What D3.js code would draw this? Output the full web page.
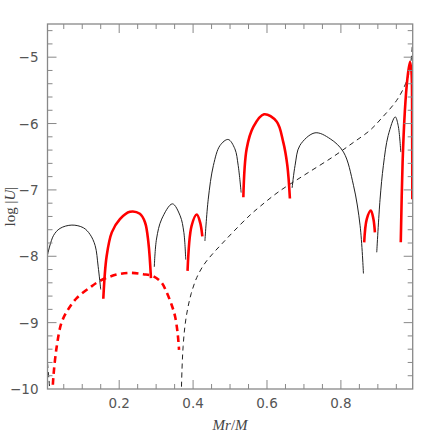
<!DOCTYPE html>
<html>
<head>
<meta charset="utf-8">
<script src="https://cdn.jsdelivr.net/npm/d3@7"></script>
<style>
  html, body { margin: 0; padding: 0; background: #fff; }
  svg { display: block; }
</style>
</head>
<body>
<div id="chart"></div>
<script>
// log |U| against Mr/M, lobes alternate sign (black = one sign, red = other)

const xTicks = [0.2, 0.4, 0.6, 0.8];
const yTicks = [-10, -9, -8, -7, -6, -5];

// solid curve, split into lobes: [Mr/M, log|U|]
const lobeBlack1 = [[0.006, -7.98], [0.022, -7.69], [0.040, -7.58], [0.072, -7.53], [0.103, -7.57], [0.121, -7.67], [0.135, -7.84], [0.143, -8.15], [0.150, -8.50]];
const lobeRed2 = [[0.157, -8.64], [0.166, -8.00], [0.180, -7.64], [0.202, -7.44], [0.229, -7.33], [0.256, -7.36], [0.270, -7.49], [0.279, -7.79], [0.286, -8.33]];
const lobeBlack3 = [[0.295, -8.16], [0.301, -7.74], [0.315, -7.44], [0.344, -7.21], [0.365, -7.39], [0.375, -7.64], [0.380, -8.05]];
const lobeRed4 = [[0.385, -8.22], [0.396, -7.54], [0.410, -7.37], [0.419, -7.49], [0.425, -7.70]];
const lobeBlack5 = [[0.432, -7.77], [0.441, -7.14], [0.455, -6.63], [0.473, -6.33], [0.495, -6.24], [0.513, -6.38], [0.522, -6.63], [0.530, -7.04]];
const lobeRed6 = [[0.536, -7.11], [0.545, -6.38], [0.563, -6.05], [0.592, -5.86], [0.626, -5.97], [0.644, -6.28], [0.655, -6.63], [0.662, -7.13]];
const lobeBlack7 = [[0.668, -6.97], [0.676, -6.63], [0.689, -6.33], [0.730, -6.14], [0.771, -6.23], [0.807, -6.43], [0.834, -6.93], [0.852, -7.54], [0.861, -8.26]];
const lobeRed8 = [[0.863, -7.79], [0.870, -7.44], [0.881, -7.31], [0.888, -7.44], [0.892, -7.64]];
const lobeBlack9 = [[0.897, -7.94], [0.906, -7.14], [0.915, -6.63], [0.928, -6.18], [0.947, -5.90], [0.955, -6.03], [0.962, -6.43]];
const lobeRed10 = [[0.962, -7.79], [0.967, -6.58], [0.973, -5.82], [0.980, -5.32], [0.987, -5.07], [0.991, -5.22], [0.9928, -6.08], [0.9932, -7.14]];

// dashed curves
const dashRed = [[0.019, -10.1], [0.022, -9.81], [0.031, -9.36], [0.044, -9.00], [0.062, -8.80], [0.085, -8.63], [0.121, -8.47], [0.148, -8.37], [0.190, -8.28], [0.229, -8.25], [0.265, -8.27], [0.292, -8.30], [0.315, -8.40], [0.329, -8.55], [0.343, -8.75], [0.351, -8.90], [0.358, -9.15], [0.362, -9.41]];
const dashBlackLeft = [[0.006, -9.61], [0.010, -9.86], [0.013, -10.1]];
const dashBlack = [[0.368, -10.1], [0.370, -9.70], [0.373, -9.36], [0.378, -9.05], [0.385, -8.80], [0.395, -8.56], [0.410, -8.32], [0.430, -8.12], [0.455, -7.95], [0.480, -7.80], [0.509, -7.63], [0.554, -7.38], [0.581, -7.25], [0.631, -7.03], [0.700, -6.78], [0.779, -6.50], [0.830, -6.30], [0.879, -6.10], [0.910, -5.92], [0.951, -5.65], [0.975, -5.40], [0.987, -5.17], [0.994, -4.76]];

const blackLobes = [lobeBlack1, lobeBlack3, lobeBlack5, lobeBlack7, lobeBlack9];
const redLobes = [lobeRed2, lobeRed4, lobeRed6, lobeRed8, lobeRed10];

const W = 436, H = 436;
const margin = {left: 47.5, right: 23.3, top: 24, bottom: 47};
const x = d3.scaleLinear().domain([0.006, 0.9943]).range([margin.left, W - margin.right]);
const y = d3.scaleLinear().domain([-10, -4.5]).range([H - margin.bottom, margin.top]);

const svg = d3.select("#chart").append("svg")
    .attr("width", W)
    .attr("height", H);

svg.append("defs").append("clipPath").attr("id", "plot-clip")
  .append("rect")
    .attr("x", x.range()[0]).attr("y", y.range()[1])
    .attr("width", x.range()[1] - x.range()[0])
    .attr("height", y.range()[0] - y.range()[1]);

const line = d3.line()
    .x(d => x(d[0]))
    .y(d => y(d[1]))
    .curve(d3.curveCatmullRom.alpha(0.5));

const plot = svg.append("g").attr("clip-path", "url(#plot-clip)");

// dashed first so solid lines sit on top
plot.selectAll("path.dash-black")
  .data([dashBlackLeft, dashBlack])
  .enter().append("path")
    .attr("class", "dash-black")
    .attr("d", line)
    .attr("fill", "none")
    .attr("stroke", "#222")
    .attr("stroke-width", 1)
    .attr("stroke-dasharray", "5,4");

plot.append("path")
    .attr("d", line(dashRed))
    .attr("fill", "none")
    .attr("stroke", "#ff0000")
    .attr("stroke-width", 2.6)
    .attr("stroke-dasharray", "6.5,4.5");

plot.selectAll("path.lobe-black")
  .data(blackLobes)
  .enter().append("path")
    .attr("class", "lobe-black")
    .attr("d", line)
    .attr("fill", "none")
    .attr("stroke", "#222")
    .attr("stroke-width", 1);

plot.selectAll("path.lobe-red")
  .data(redLobes)
  .enter().append("path")
    .attr("class", "lobe-red")
    .attr("d", line)
    .attr("fill", "none")
    .attr("stroke", "#ff0000")
    .attr("stroke-width", 2.6);

// frame and inward ticks on all four sides
const axisColor = "#888";
const x0 = x.range()[0], x1 = x.range()[1], yB = y.range()[0], yT = y.range()[1];

const xMinor = d3.range(0.05, 0.99, 0.05).map(v => +v.toFixed(2));
const yMinor = d3.range(-9.8, -4.5, 0.2).map(v => +v.toFixed(1));
const isMajorX = v => xTicks.some(t => Math.abs(t - v) < 1e-6);
const isMajorY = v => yTicks.some(t => Math.abs(t - v) < 1e-6);

const ticks = svg.append("g").attr("stroke", axisColor).attr("stroke-width", 1);
xMinor.forEach(v => {
  const len = isMajorX(v) ? 9 : 5;
  ticks.append("line").attr("x1", x(v)).attr("x2", x(v)).attr("y1", yB).attr("y2", yB - len);
  ticks.append("line").attr("x1", x(v)).attr("x2", x(v)).attr("y1", yT).attr("y2", yT + len);
});
yMinor.forEach(v => {
  const len = isMajorY(v) ? 9 : 5;
  ticks.append("line").attr("y1", y(v)).attr("y2", y(v)).attr("x1", x0).attr("x2", x0 + len);
  ticks.append("line").attr("y1", y(v)).attr("y2", y(v)).attr("x1", x1).attr("x2", x1 - len);
});

svg.append("rect")
    .attr("x", x0).attr("y", yT)
    .attr("width", x1 - x0).attr("height", yB - yT)
    .attr("fill", "none")
    .attr("stroke", axisColor)
    .attr("stroke-width", 1.3);

// tick labels
const labelFont = "'DejaVu Sans', sans-serif";
svg.append("g").selectAll("text")
  .data(xTicks)
  .enter().append("text")
    .attr("x", d => x(d))
    .attr("y", yB + 19)
    .attr("text-anchor", "middle")
    .attr("font-family", labelFont)
    .attr("font-size", 13.5)
    .attr("fill", "#555")
    .text(d => d.toFixed(1));

svg.append("g").selectAll("text")
  .data(yTicks)
  .enter().append("text")
    .attr("x", x0 - 9)
    .attr("y", d => y(d) + 5)
    .attr("text-anchor", "end")
    .attr("font-family", labelFont)
    .attr("font-size", 13.5)
    .attr("fill", "#555")
    .text(d => "\u2212" + Math.abs(d));

// axis titles
const xl = svg.append("text")
    .attr("x", (x0 + x1) / 2)
    .attr("y", 430)
    .attr("text-anchor", "middle")
    .attr("font-family", "'Liberation Serif', serif")
    .attr("font-size", 15)
    .attr("fill", "#444");
xl.append("tspan").attr("font-style", "italic").text("Mr");
xl.append("tspan").text("/");
xl.append("tspan").attr("font-style", "italic").text("M");

const yl = svg.append("text")
    .attr("transform", `translate(15,${(yT + yB) / 2}) rotate(-90)`)
    .attr("text-anchor", "middle")
    .attr("font-family", "'Liberation Serif', serif")
    .attr("font-size", 15)
    .attr("fill", "#444");
yl.append("tspan").text("log |");
yl.append("tspan").attr("font-style", "italic").text("U");
yl.append("tspan").text("|");
</script>
</body>
</html>
